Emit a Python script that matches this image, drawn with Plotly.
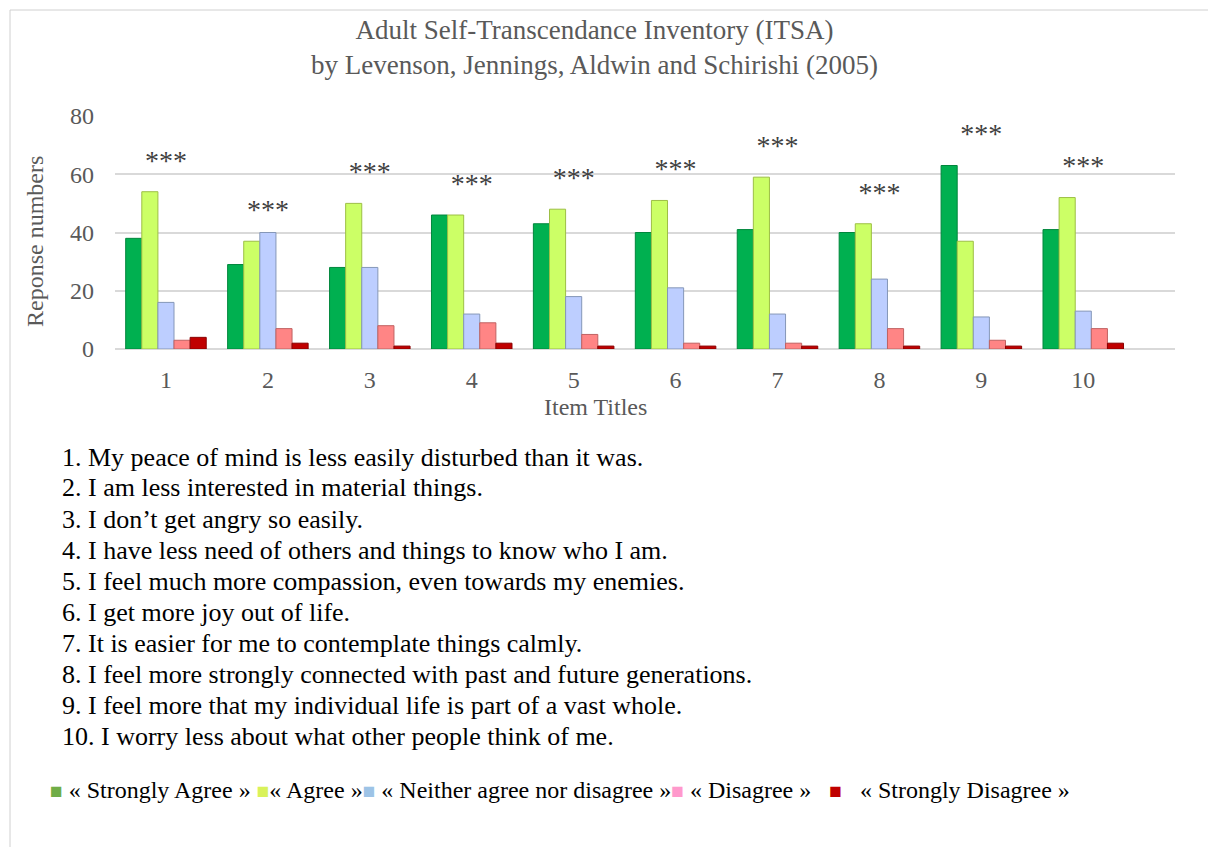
import plotly.graph_objects as go

items = ["1", "2", "3", "4", "5", "6", "7", "8", "9", "10"]
strongly_agree = [38, 29, 28, 46, 43, 40, 41, 40, 63, 41]
agree = [54, 37, 50, 46, 48, 51, 59, 43, 37, 52]
neither = [16, 40, 28, 12, 18, 21, 12, 24, 11, 13]
disagree = [3, 7, 8, 9, 5, 2, 2, 7, 3, 7]
strongly_disagree = [4, 2, 1, 2, 1, 1, 1, 1, 1, 2]
star_y = [64, 47, 60, 56, 58, 61, 69, 53, 73, 62]

series_names = ["« Strongly Agree »", "« Agree »", "« Neither agree nor disagree »",
                "« Disagree »", "« Strongly Disagree »"]
bar_colors = ["#00B050", "#CCFF66", "#BDCEFF", "#FF8585", "#C00000"]
side_colors = ["#00863C", "#9DBF45", "#8597B8", "#C06262", "#8A0000"]
legend_colors = ["#70AD47", "#D9F25A", "#9DC3E6", "#FF99CC", "#C00000"]

statements = [
    "1. My peace of mind is less easily disturbed than it was.",
    "2. I am less interested in material things.",
    "3. I don\u2019t get angry so easily.",
    "4. I have less need of others and things to know who I am.",
    "5. I feel much more compassion, even towards my enemies.",
    "6. I get more joy out of life.",
    "7. It is easier for me to contemplate things calmly.",
    "8. I feel more strongly connected with past and future generations.",
    "9. I feel more that my individual life is part of a vast whole.",
    "10. I worry less about what other people think of me.",
]

W, H = 1216, 847
L, R, T, B = 107, 49, 108, 506
pw, ph = W - L - R, H - T - B

def px(x):
    return (x - L) / pw

def py(y):
    return (H - B - y) / ph

FONT = "Liberation Serif"
GREY = "#595959"

fig = go.Figure()
data = [strongly_agree, agree, neither, disagree, strongly_disagree]
for name, vals, col, side in zip(series_names, data, bar_colors, side_colors):
    fig.add_trace(go.Bar(x=items, y=vals, name=name,
                         marker=dict(color=col, line=dict(color=side, width=1)),
                         showlegend=False))

fig.add_trace(go.Scatter(x=items, y=star_y, mode="text", text=["***"] * len(items),
                         textfont=dict(family=FONT, size=28, color="#404040"), showlegend=False,
                         hoverinfo="skip"))

# title
fig.add_annotation(text="Adult Self-Transcendance Inventory (ITSA)<br>by Levenson, Jennings, Aldwin and Schirishi (2005)",
                   xref="paper", yref="paper", x=px(586), y=py(39), xanchor="center", yanchor="middle",
                   showarrow=False, font=dict(family=FONT, size=27, color=GREY))

# axis titles
fig.add_annotation(text="Reponse numbers", xref="paper", yref="paper", x=px(27), y=py(234),
                   textangle=-90, xanchor="center", yanchor="middle", showarrow=False,
                   font=dict(family=FONT, size=24, color=GREY))
fig.add_annotation(text="Item Titles", xref="paper", yref="paper", x=px(587), y=py(399),
                   xanchor="center", yanchor="middle", showarrow=False,
                   font=dict(family=FONT, size=24, color=GREY))

# statement list
for i, s in enumerate(statements):
    fig.add_annotation(text=s, xref="paper", yref="paper", x=px(52), y=py(449 + 31 * i),
                       xanchor="left", yanchor="middle", showarrow=False,
                       font=dict(family=FONT, size=26, color="#000000"))

# legend (text with coloured squares)
def sq(c):
    return f"<span style='color:{c};font-size:21px'>\u25A0</span>"

legend_text = (sq(legend_colors[0]) + " " + series_names[0] + " " +
               sq(legend_colors[1]) + series_names[1] +
               sq(legend_colors[2]) + " " + series_names[2] +
               sq(legend_colors[3]) + " " + series_names[3] + "\u00a0\u00a0 " +
               sq(legend_colors[4]) + "\u00a0\u00a0 " + series_names[4])
fig.add_annotation(text=legend_text, xref="paper", yref="paper", x=px(40), y=py(782),
                   xanchor="left", yanchor="middle", showarrow=False,
                   font=dict(family=FONT, size=24, color="#000000"))

fig.add_shape(type="rect", xref="paper", yref="paper", x0=px(2), y0=py(2), x1=px(1240), y1=py(870),
              line=dict(color="#D0D0D0", width=1))

fig.update_layout(
    width=W, height=H,
    margin=dict(l=L, r=R, t=T, b=B),
    paper_bgcolor="white", plot_bgcolor="white",
    barmode="group", bargap=0.21, bargroupgap=0.0,
    font=dict(family=FONT, color=GREY),
    showlegend=False,
    xaxis=dict(tickfont=dict(size=24, color=GREY), showgrid=False, showline=False, ticks="",
               range=[-0.5, 9.9], automargin=False, ticklabelstandoff=14),
    yaxis=dict(range=[0, 80], dtick=20, tickfont=dict(size=24, color=GREY),
               gridcolor="#D9D9D9", gridwidth=2, zeroline=True, zerolinecolor="#D9D9D9",
               zerolinewidth=2, automargin=False, ticklabelstandoff=20),
)

fig.write_html("out.html")
